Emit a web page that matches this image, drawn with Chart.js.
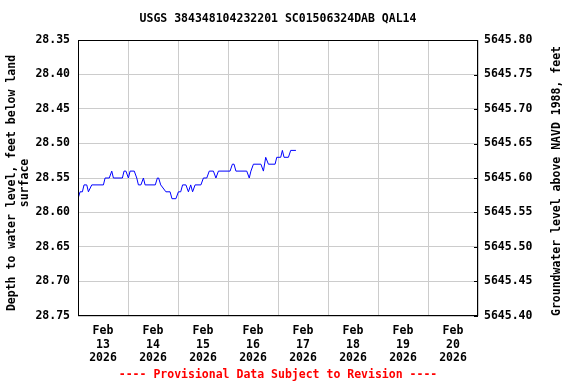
<!DOCTYPE html>
<html>
<head>
<meta charset="utf-8">
<script src="https://cdn.jsdelivr.net/npm/chart.js@4"></script>
<style>
  html, body { margin: 0; padding: 0; background: #fff; }
  #wrap { width: 576px; height: 384px; }
</style>
</head>
<body>
<div id="wrap"><canvas id="chart" width="576" height="384"></canvas></div>
<script>
// hours since Feb 13 2026 00:00, depth to water (ft below land surface)
const hours = [0, 1, 2.1, 2.9, 4.2, 5, 6.6, 12.2, 13, 15, 16.2, 17, 21.3, 22.1, 23, 24.2, 25, 27, 28.2, 29, 30.2, 31.4, 32.2,
  37.1, 38.1, 38.7, 39.7, 42.2, 44.2, 45.1, 47, 48.2, 49.3, 50.2, 51.8, 53, 54.1, 55, 56.2, 59, 60.2, 61.8, 63, 65, 66.2,
  67.4, 73, 74.1, 74.9, 75.8, 81, 82.2, 83, 84.2, 87.8, 89, 90.1, 91.4, 94.6, 95.4, 97.3, 98.1, 98.9, 101, 102.1, 104.6];
const depth = [28.58, 28.57, 28.57, 28.56, 28.56, 28.57, 28.56, 28.56, 28.55, 28.55, 28.54, 28.55, 28.55, 28.54, 28.54, 28.55, 28.54, 28.54, 28.55, 28.56, 28.56, 28.55, 28.56,
  28.56, 28.55, 28.55, 28.56, 28.57, 28.57, 28.58, 28.58, 28.57, 28.57, 28.56, 28.56, 28.57, 28.56, 28.57, 28.56, 28.56, 28.55, 28.55, 28.54, 28.54, 28.55,
  28.54, 28.54, 28.53, 28.53, 28.54, 28.54, 28.55, 28.54, 28.53, 28.53, 28.54, 28.52, 28.53, 28.53, 28.52, 28.52, 28.51, 28.52, 28.52, 28.51, 28.51];
const dayLabels = ['13', '14', '15', '16', '17', '18', '19', '20'];
const depthTicks = [28.35, 28.40, 28.45, 28.50, 28.55, 28.60, 28.65, 28.70, 28.75];
const elevTicks = [5645.40, 5645.45, 5645.50, 5645.55, 5645.60, 5645.65, 5645.70, 5645.75, 5645.80];

const FONT = { family: 'DejaVu Sans Mono', size: 11.5, weight: 'bold' };
const GRID = '#cccccc';

const frame = {
  id: 'frame',
  afterDraw(chart) {
    const { ctx, chartArea: a } = chart;
    ctx.save();
    ctx.strokeStyle = '#000';
    ctx.lineWidth = 1;
    ctx.strokeRect(a.left + 0.5, a.top + 0.5, a.right - a.left - 1, a.bottom - a.top - 1);
    // short ticks inside the right border
    const yr = chart.scales.y2;
    ctx.beginPath();
    yr.ticks.forEach(t => {
      const p = Math.round(yr.getPixelForValue(t.value)) + 0.5;
      ctx.moveTo(a.right, p); ctx.lineTo(a.right - 4, p);
    });
    ctx.stroke();
    const cx = (a.left + a.right) / 2;
    const cy = (a.top + a.bottom) / 2 + 5;
    ctx.textAlign = 'center';
    ctx.textBaseline = 'middle';
    ctx.font = 'bold 11.5px "DejaVu Sans Mono"';
    ctx.fillStyle = '#000';
    ctx.fillText('USGS 384348104232201 SC01506324DAB QAL14', cx, 19);
    // axis titles, both read bottom to top
    ctx.save();
    ctx.translate(12, cy);
    ctx.rotate(-Math.PI / 2);
    ctx.fillText('Depth to water level, feet below land', 0, 0);
    ctx.fillText('surface', 0, 13);
    ctx.restore();
    ctx.save();
    ctx.translate(557, cy - 2);
    ctx.rotate(-Math.PI / 2);
    ctx.fillText('Groundwater level above NAVD 1988, feet', 0, 0);
    ctx.restore();
    ctx.fillStyle = '#ff0000';
    ctx.fillText('---- Provisional Data Subject to Revision ----', cx, 375);
    ctx.restore();
  }
};

new Chart(document.getElementById('chart'), {
  type: 'line',
  data: {
    datasets: [{
      data: hours.map((h, i) => ({ x: h, y: depth[i] })),
      borderColor: '#0000ff',
      borderWidth: 1,
      pointRadius: 0,
      tension: 0,
      fill: false
    }]
  },
  options: {
    responsive: false,
    animation: false,
    layout: { padding: { top: 40, right: 0, bottom: 0, left: 0 } },
    plugins: { legend: { display: false }, tooltip: { enabled: false } },
    scales: {
      x: {
        type: 'linear', min: 0, max: 192,
        afterBuildTicks: s => { s.ticks = []; for (let v = 0; v <= 192; v += 12) s.ticks.push({ value: v }); },
        afterFit: s => { s.height = 68; },
        grid: { color: c => (c.tick && c.tick.value % 24 === 0) ? GRID : 'rgba(0,0,0,0)', drawTicks: false },
        border: { display: false },
        ticks: {
          autoSkip: false, maxRotation: 0, padding: 8, color: '#000', font: FONT,
          callback: v => (v % 24 === 12) ? ['Feb', dayLabels[(v - 12) / 24], '2026'] : ''
        }
      },
      y: {
        position: 'left', reverse: true, min: 28.35, max: 28.75,
        afterBuildTicks: s => { s.ticks = depthTicks.map(v => ({ value: v })); },
        afterFit: s => { s.width = 78; },
        grid: { color: GRID, drawTicks: false },
        border: { display: false },
        ticks: { padding: 8, color: '#000', font: FONT, callback: v => v.toFixed(2) }
      },
      y2: {
        position: 'right', min: 5645.40, max: 5645.80,
        afterBuildTicks: s => { s.ticks = elevTicks.map(v => ({ value: v })); },
        afterFit: s => { s.width = 98; },
        grid: { drawOnChartArea: false, drawTicks: false },
        border: { display: false },
        ticks: { padding: 6, color: '#000', font: FONT, callback: v => v.toFixed(2) }
      }
    }
  },
  plugins: [frame]
});
</script>
</body>
</html>
